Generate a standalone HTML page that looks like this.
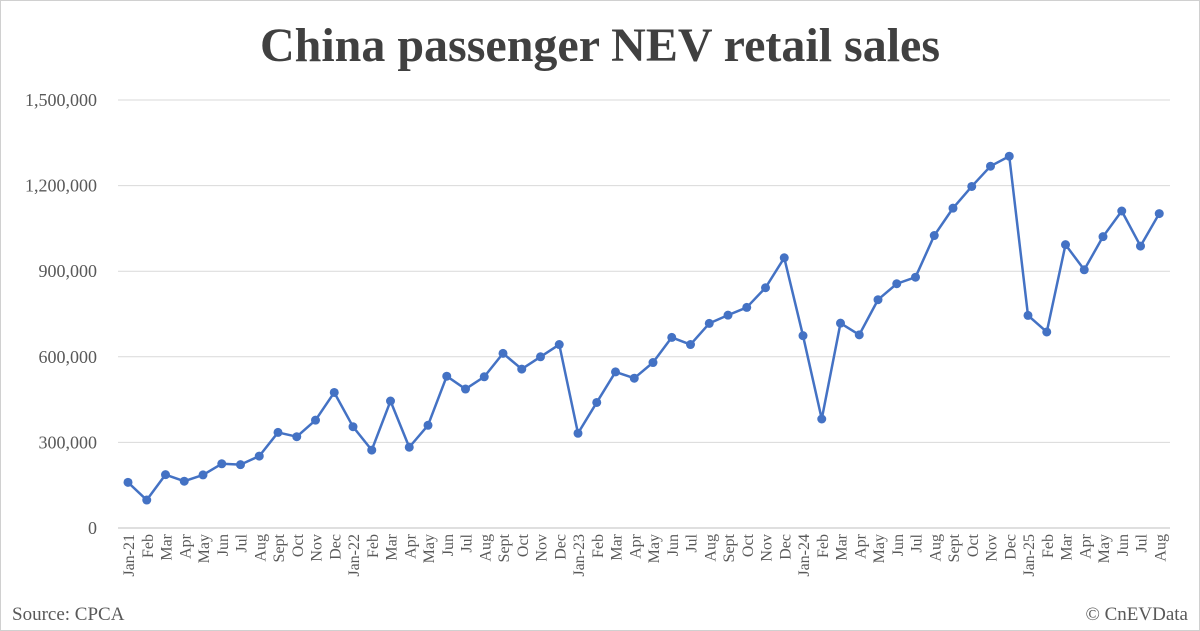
<!DOCTYPE html>
<html><head><meta charset="utf-8">
<style>
html,body{margin:0;padding:0;background:#fff;}
svg{display:block;font-family:"Liberation Serif",serif;}
</style></head>
<body>
<svg id="c" width="1200" height="631" viewBox="0 0 1200 631" xmlns="http://www.w3.org/2000/svg">
<rect x="0.5" y="0.5" width="1199" height="630" fill="#fff" stroke="#d0d0d0"/>
<text x="600" y="61" text-anchor="middle" font-size="48" font-weight="bold" fill="#404040">China passenger NEV retail sales</text>
<g id="grid"></g>
<g id="xl"></g>
<polyline id="ln" fill="none" stroke="#4472c4" stroke-width="2.5" stroke-linejoin="round"/>
<g id="pts" fill="#4472c4"></g>
<text x="12" y="620" font-size="19" fill="#595959">Source: CPCA</text>
<text x="1188" y="620" font-size="19" fill="#595959" text-anchor="end">© CnEVData</text>
</svg>
<script>
var ns="http://www.w3.org/2000/svg";
function el(t,a,p,txt){var e=document.createElementNS(ns,t);for(var k in a)e.setAttribute(k,a[k]);if(txt!=null)e.textContent=txt;document.getElementById(p).appendChild(e);return e;}
var y0=528,y1=100,x0=128,dx=18.75;
function Y(v){return y0-v/1500000*(y0-y1);}
var labs=["0","300,000","600,000","900,000","1,200,000","1,500,000"];
for(var i=0;i<6;i++){var y=Y(i*300000);
 el("line",{x1:118,x2:1170,y1:y,y2:y,stroke:i==0?"#bfbfbf":"#d9d9d9","stroke-width":1},"grid");
 el("text",{x:97,y:y+6,"text-anchor":"end","font-size":18,fill:"#595959"},"grid",labs[i]);}
var d=[160,98,187,164,186,225,222,252,335,320,378,475,355,273,445,283,360,532,487,530,612,557,600,643,332,440,547,525,580,668,643,717,746,773,842,947,674,382,718,677,800,856,879,1025,1121,1197,1268,1303,745,687,993,905,1021,1111,988,1102];
var m=["Jan","Feb","Mar","Apr","May","Jun","Jul","Aug","Sept","Oct","Nov","Dec"];
var pts=[];
for(var i=0;i<d.length;i++){var x=x0+i*dx,y=Y(d[i]*1000);pts.push(x+","+y);
 el("circle",{cx:x,cy:y,r:4.5},"pts");
 var l=m[i%12];if(i%12==0)l=l+"-"+(21+i/12);
 el("text",{transform:"translate("+(x+6)+",534) rotate(-90)","text-anchor":"end","font-size":16,fill:"#595959"},"xl",l);}
document.getElementById("ln").setAttribute("points",pts.join(" "));
</script>
</body></html>
